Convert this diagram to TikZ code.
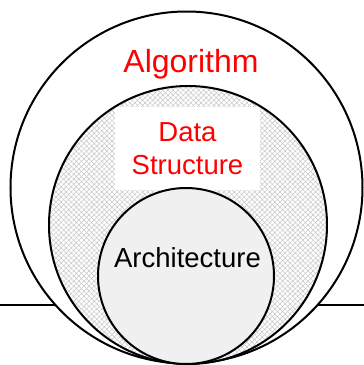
\documentclass[tikz,border=0pt]{standalone}
\usepackage{fontspec}
\setmainfont{Liberation Sans}
\usetikzlibrary{patterns.meta}

\begin{document}
\begin{tikzpicture}[x=1pt, y=-1pt]
	\useasboundingbox (0, 0) rectangle (364, 365);
	\fill[white] (0, 0) rectangle (364, 365);

	% ground line
	\draw[line width=1.4pt] (0, 305) -- (55.6, 305);
	\draw[line width=1.4pt] (317.4, 305) -- (364, 305);

	\draw[line width=2pt, fill=white] (186.5, 187.5) circle (176);

	\fill[pattern={Lines[angle=45, distance=3.6pt, line width=0.5pt]}, pattern color=gray!45] (188, 225) circle (139);
	\fill[pattern={Lines[angle=-45, distance=3.6pt, line width=0.5pt]}, pattern color=gray!45] (188, 225) circle (139);
	\node[fill=white, minimum width=145, minimum height=83, inner sep=0pt,
		align=center, text=red, font=\fontsize{27.5}{33}\selectfont]
		(data) at (187.5, 148.5) {Data\\Structure};
	\draw[line width=2pt] (188, 225) circle (139);

	\draw[line width=2pt, fill=gray!12] (186, 276) circle (88);

	\node[anchor=base, text=red, font=\fontsize{32}{38}\selectfont] (algo) at (191, 72) {Algorithm};
	\node[anchor=base, font=\fontsize{27.5}{33}\selectfont] (arch) at (187.5, 267) {Architecture};
\end{tikzpicture}
\end{document}
